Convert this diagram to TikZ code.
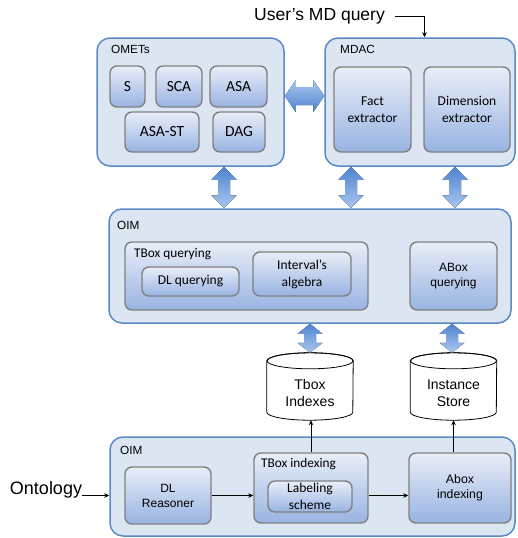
\documentclass[tikz,border=0pt]{standalone}
\usepackage{fontspec}
\setmainfont{Liberation Sans}
\newfontfamily\calib{Carlito}
\usetikzlibrary{arrows.meta,calc}
\definecolor{olight}{HTML}{DCE6F2}
\definecolor{oblue}{HTML}{5A8AC6}
\definecolor{igray}{HTML}{808080}
\definecolor{itop}{HTML}{E9EEF8}
\definecolor{ibot}{HTML}{98B3E2}
\definecolor{adark}{HTML}{4F84D0}
\definecolor{alight}{HTML}{AAC7F0}
\tikzset{
  outerbox/.style={draw=oblue, line width=1.5pt, fill=olight, rounded corners=13pt, inner sep=0pt},
  innerbox/.style={draw=igray, line width=1.4pt, rounded corners=7pt, top color=itop, bottom color=ibot, align=center, inner sep=0pt},
  lbl/.style={anchor=west, inner sep=0pt, font=\fontsize{11.8}{14}\selectfont},
  thinarr/.style={-{Stealth[length=5pt,width=4.5pt]}, line width=0.8pt},
  varr/.style={top color=adark, bottom color=alight},
  harr/.style={top color=alight, bottom color=adark},
  cyl/.style={draw=black, line width=0.8pt, fill=white},
  calf/.style={font=\calib\fontsize{15.5}{18}\selectfont},
  calm/.style={font=\calib\fontsize{13.5}{17}\selectfont},
  arf/.style={font=\fontsize{12}{15}\selectfont},
}
\newcommand{\vdarr}[4]{%
  \fill[varr] let \p1=(#2), \p2=(#3) in
  (#1pt,\y1) -- (#1pt+12.5pt,\y1-#4pt) -- (#1pt+6pt,\y1-#4pt) -- (#1pt+6pt,\y2+#4pt)
  -- (#1pt+12.5pt,\y2+#4pt) -- (#1pt,\y2) -- (#1pt-12.5pt,\y2+#4pt) -- (#1pt-6pt,\y2+#4pt)
  -- (#1pt-6pt,\y1-#4pt) -- (#1pt-12.5pt,\y1-#4pt) -- cycle;}
\newcommand{\hdarr}[4]{%
  \fill[harr] let \p1=(#2), \p2=(#3) in
  (\x1,-#1pt) -- (\x1+#4pt,-#1pt+16pt) -- (\x1+#4pt,-#1pt+9pt) -- (\x2-#4pt,-#1pt+9pt)
  -- (\x2-#4pt,-#1pt+16pt) -- (\x2,-#1pt) -- (\x2-#4pt,-#1pt-16pt) -- (\x2-#4pt,-#1pt-9pt)
  -- (\x1+#4pt,-#1pt-9pt) -- (\x1+#4pt,-#1pt-16pt) -- cycle;}
\newcommand{\cylpath}[1]{%
  \draw[cyl] ([yshift=-8pt]#1.north west) -- ([yshift=8pt]#1.south west)
    arc[start angle=180, end angle=360, x radius=43pt, y radius=8pt]
    -- ([yshift=-8pt]#1.north east)
    arc[start angle=0, end angle=180, x radius=43pt, y radius=8pt] -- cycle;
  \draw[cyl, fill=none] ([yshift=-8pt]#1.north) ellipse[x radius=43pt, y radius=8pt];}
\begin{document}
\begin{tikzpicture}[x=1pt,y=-1pt]
\useasboundingbox (0,0) rectangle (517,538);
% ---- top row ----
\node[outerbox, minimum width=187pt, minimum height=128pt] (omets) at (190.5,102) {};
\node[lbl] (lomets) at (111,49) {OMETs};
\node[innerbox, calf, minimum width=35pt, minimum height=41pt] (s) at (127.5,86.5) {S};
\node[innerbox, calf, minimum width=46pt, minimum height=41pt] (sca) at (179,86.5) {SCA};
\node[innerbox, calf, minimum width=57pt, minimum height=41pt] (asa) at (238.5,86.5) {ASA};
\node[innerbox, calf, minimum width=74pt, minimum height=40pt] (asast) at (162,132) {ASA-ST};
\node[innerbox, calf, minimum width=52pt, minimum height=40pt] (dag) at (239,132) {DAG};

\node[outerbox, minimum width=190pt, minimum height=128pt] (mdac) at (420,102) {};
\node[lbl] (lmdac) at (340,49) {MDAC};
\node[innerbox, calm, minimum width=77pt, minimum height=85pt] (fact) at (372.5,109.5) {Fact\\extractor};
\node[innerbox, calm, minimum width=86pt, minimum height=85pt] (dim) at (467,109.5) {Dimension\\extractor};

\node[inner sep=0pt, font=\fontsize{17.5}{20}\selectfont] (umq) at (319.5,16) {User’s MD query};
\draw[thinarr] ([xshift=10pt]umq.east) -| ([xshift=4.5pt]mdac.north);

% ---- middle OIM ----
\node[outerbox, minimum width=402pt, minimum height=114pt] (oim1) at (310,266) {};
\node[lbl] (loim1) at (117,225) {OIM};
\node[innerbox, minimum width=243pt, minimum height=68pt] (tbq) at (246.5,276) {};
\node[anchor=west, inner sep=0pt, font=\calib\fontsize{13.3}{16}\selectfont] (ltbq) at (134,254) {TBox querying};
\node[innerbox, calm, minimum width=97pt, minimum height=29pt] (dlq) at (190.5,281.5) {DL querying};
\node[innerbox, calm, minimum width=98pt, minimum height=44pt] (inta) at (302,274) {Interval’s\\algebra};
\node[innerbox, arf, minimum width=87pt, minimum height=68pt] (abq) at (453.5,276) {\raisebox{4pt}{\begin{tabular}{@{}c@{}}ABox\\querying\end{tabular}}};

% ---- cylinders ----
\node[minimum width=86pt, minimum height=67pt, inner sep=0pt] (tbi) at (310,386.5) {};
\cylpath{tbi}
\node[align=center, font=\fontsize{14}{17}\selectfont] (ltbi) at (310,393) {Tbox\\Indexes};
\node[minimum width=86pt, minimum height=67pt, inner sep=0pt] (ist) at (453.5,386.5) {};
\cylpath{ist}
\node[align=center, font=\fontsize{14}{17}\selectfont] (list) at (453.5,393) {Instance\\Store};

% ---- bottom OIM ----
\node[outerbox, minimum width=405pt, minimum height=99pt] (oim2) at (312.5,486.5) {};
\node[lbl] (loim2) at (120,450) {OIM};
\node[innerbox, arf, minimum width=86pt, minimum height=57pt] (dlr) at (168,495.5) {DL\\Reasoner};
\node[innerbox, minimum width=114pt, minimum height=70pt] (tbx) at (311,488) {};
\node[anchor=west, inner sep=0pt, font=\calib\fontsize{13.3}{16}\selectfont] (ltbx) at (261,464) {TBox indexing};
\node[innerbox, calm, minimum width=84pt, minimum height=31pt] (lab) at (310,496.5) {Labeling\\scheme};
\node[innerbox, font=\fontsize{12.3}{15}\selectfont, minimum width=102pt, minimum height=70pt] (abx) at (460,488) {\raisebox{3pt}{\begin{tabular}{@{}c@{}}Abox\\indexing\end{tabular}}};
\node[inner sep=0pt, font=\fontsize{18}{21}\selectfont] (onto) at (46,490) {Ontology};

% ---- connectors ----
\draw[thinarr] (onto.east |- dlr.east) -- (oim2.west |- dlr.east);
\draw[thinarr] (dlr.east) -- (dlr.east -| tbx.west);
\draw[thinarr] (tbx.east |- dlr.east) -- (abx.west |- dlr.east);
\draw[thinarr] (tbx.north) -- (tbx.north |- tbi.south);
\draw[thinarr] (ist.south |- abx.north) -- (ist.south);

% ---- block arrows ----
\hdarr{96}{omets.east}{mdac.west}{11}
\vdarr{224}{omets.south}{oim1.north}{13}
\vdarr{351}{mdac.south}{oim1.north}{13}
\vdarr{455}{mdac.south}{oim1.north}{13}
\vdarr{310}{oim1.south}{tbi.north}{10}
\vdarr{452}{oim1.south}{ist.north}{10}
\end{tikzpicture}
\end{document}
